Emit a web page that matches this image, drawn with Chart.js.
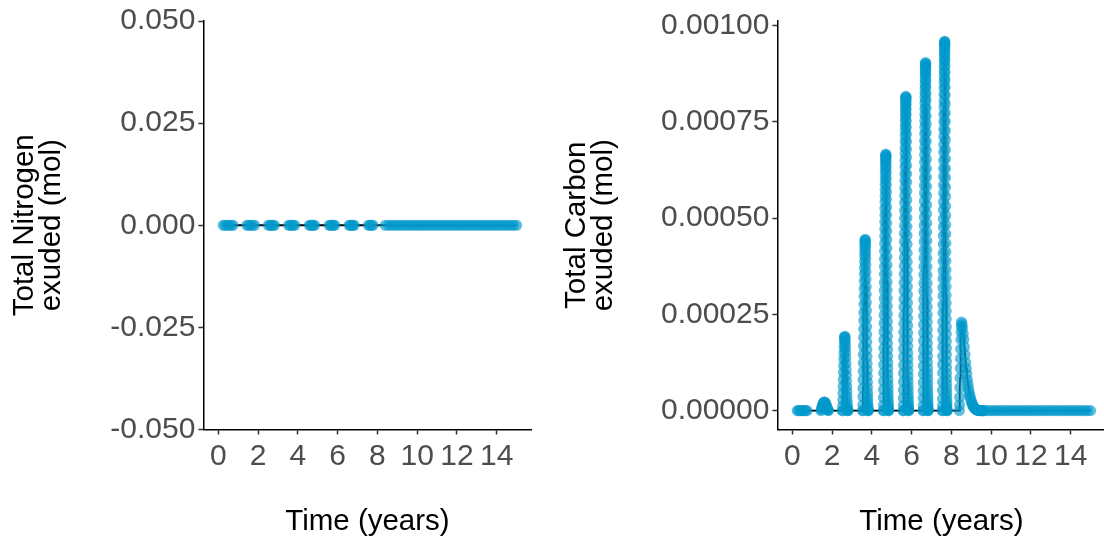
<!DOCTYPE html>
<html>
<head>
<meta charset="utf-8">
<script src="https://cdn.jsdelivr.net/npm/chart.js@4.4.0/dist/chart.umd.min.js"></script>
<style>
  html, body { margin: 0; padding: 0; background: #fff; overflow: hidden; width: 1104px; height: 542px; }
  canvas { position: absolute; top: 0; }
  #nitrogen { left: 0; }
  #carbon { left: 552px; }
</style>
</head>
<body>
<canvas id="nitrogen" width="552" height="542"></canvas>
<canvas id="carbon" width="560" height="542"></canvas>
<script>
// ---- Axis ticks ----
const timeTicks = [0, 2, 4, 6, 8, 10, 12, 14];
const timeTickLabels = ['0', '2', '4', '6', '8', '10', '12', '14'];
const nitrogenTicks = [-0.05, -0.025, 0, 0.025, 0.05];
const nitrogenTickLabels = ['-0.050', '-0.025', '0.000', '0.025', '0.050'];
const carbonTicks = [0, 0.00025, 0.0005, 0.00075, 0.001];
const carbonTickLabels = ['0.00000', '0.00025', '0.00050', '0.00075', '0.00100'];

// ---- Nitrogen output: sampling windows (years), samples evenly spaced in each ----
const nitrogenWindowStart = [0.25, 1.44, 2.52, 3.54, 4.58, 5.58, 6.58, 7.55, 8.40];
const nitrogenWindowEnd   = [0.74, 1.82, 2.82, 3.84, 4.84, 5.85, 6.83, 7.78, 15.00];
// Total nitrogen exuded (mol)
const nitrogenWindowValues = [
  [0, 0, 0, 0, 0, 0],
  [0, 0, 0, 0, 0],
  [0, 0, 0, 0, 0],
  [0, 0, 0, 0, 0],
  [0, 0, 0, 0, 0],
  [0, 0, 0, 0, 0],
  [0, 0, 0, 0, 0],
  [0, 0, 0, 0],
  [0, 0, 0, 0, 0, 0, 0, 0, 0, 0, 0, 0, 0, 0, 0, 0, 0, 0, 0, 0, 0, 0, 0, 0, 0, 0, 0, 0, 0, 0,
   0, 0, 0, 0, 0, 0, 0, 0, 0, 0, 0, 0, 0, 0, 0]
];

// ---- Carbon output: sampling windows (years), samples evenly spaced in each ----
const carbonWindowStart = [0.25, 1.44, 2.52, 3.54, 4.58, 5.58, 6.58, 7.55, 8.40, 8.53, 9.65];
const carbonWindowEnd   = [0.74, 1.82, 2.80, 3.82, 4.84, 5.85, 6.83, 7.78, 8.51, 9.60, 15.00];
// Total carbon exuded, in units of 1e-5 mol
const carbonUnit = 1e-5;
const carbonWindowValues = [
  // year 0
  [0, 0, 0, 0, 0, 0, 0, 0],
  // year 1
  [0, 0.3, 0.7, 1.1, 1.5, 1.8, 2.0, 2.2, 2.2, 2.1, 1.9, 1.6, 1.3, 0.9, 0.6, 0.3, 0.1, 0],
  // year 2
  [0, 0, 1.2, 2.8, 4.5, 6.3, 8.1, 9.9, 11.7, 13.4, 15.0, 16.4, 17.6, 18.5, 19.1, 19.3,
   19.0, 18.4, 17.5, 16.4, 15.1, 13.7, 12.2, 10.7, 9.2, 7.7, 6.3, 5.0, 3.8, 2.7, 1.8, 1.0, 0.4, 0.1, 0, 0],
  // year 3
  [0, 0, 1.5, 3.6, 5.8, 8.0, 10.2, 12.4, 14.6, 16.8, 19.0, 21.2, 23.4, 25.5, 27.6, 29.7, 31.7, 33.6,
   35.5, 37.2, 38.8, 40.3, 41.6, 42.7, 43.6, 44.2, 44.5,
   44.1, 43.4, 42.4, 41.1, 39.6, 37.9, 36.1, 34.2, 32.2, 30.2, 28.1, 26.0, 23.9, 21.8, 19.8, 17.8,
   15.9, 14.0, 12.2, 10.5, 8.9, 7.4, 6.0, 4.7, 3.6, 2.6, 1.7, 1.0, 0.5, 0.1, 0, 0],
  // year 4
  [0, 0, 1.4, 3.4, 5.5, 7.6, 9.8, 11.9, 14.1, 16.2, 18.4, 20.5, 22.7, 24.8, 27.0, 29.1, 31.2, 33.3,
   35.4, 37.4, 39.4, 41.4, 43.4, 45.3, 47.2, 49.0, 50.8, 52.5, 54.2, 55.8, 57.3, 58.8, 60.1, 61.4,
   62.6, 63.6, 64.6, 65.4, 66.0, 66.4, 66.6,
   66.2, 65.5, 64.5, 63.3, 61.9, 60.3, 58.6, 56.8, 54.9, 52.9, 50.8, 48.7, 46.6, 44.4, 42.2, 40.0,
   37.8, 35.6, 33.4, 31.3, 29.2, 27.1, 25.1, 23.1, 21.2, 19.3, 17.5, 15.8, 14.1, 12.5, 11.0, 9.5,
   8.1, 6.8, 5.6, 4.5, 3.5, 2.6, 1.8, 1.1, 0.6, 0.2, 0, 0],
  // year 5
  [0, 0, 1.4, 3.3, 5.4, 7.5, 9.7, 11.8, 14.0, 16.1, 18.3, 20.4, 22.6, 24.7, 26.9, 29.0, 31.2, 33.3,
   35.5, 37.6, 39.7, 41.8, 43.9, 46.0, 48.0, 50.0, 52.0, 54.0, 55.9, 57.8, 59.7, 61.5, 63.3, 65.0,
   66.7, 68.3, 69.9, 71.4, 72.8, 74.1, 75.4, 76.6, 77.7, 78.7, 79.6, 80.4, 81.0, 81.4, 81.6,
   81.2, 80.5, 79.5, 78.3, 76.9, 75.3, 73.6, 71.8, 69.9, 67.9, 65.8, 63.7, 61.5, 59.3, 57.0, 54.7,
   52.4, 50.1, 47.8, 45.5, 43.2, 40.9, 38.7, 36.5, 34.3, 32.2, 30.1, 28.0, 26.0, 24.0, 22.1, 20.2,
   18.4, 16.7, 15.0, 13.4, 11.9, 10.4, 9.0, 7.7, 6.4, 5.3, 4.2, 3.2, 2.4, 1.6, 1.0, 0.5, 0.2, 0, 0],
  // year 6
  [0, 0, 1.3, 3.2, 5.2, 7.3, 9.5, 11.6, 13.8, 15.9, 18.1, 20.2, 22.4, 24.5, 26.7, 28.8, 31.0, 33.1,
   35.3, 37.4, 39.6, 41.7, 43.9, 46.0, 48.1, 50.2, 52.3, 54.4, 56.5, 58.5, 60.5, 62.5, 64.5, 66.4,
   68.3, 70.1, 71.9, 73.6, 75.3, 76.9, 78.5, 79.9, 81.3, 82.6, 83.8, 84.9, 85.9, 86.9, 87.7, 88.5,
   89.2, 89.7, 90.1, 90.4,
   90.0, 89.3, 88.3, 87.1, 85.7, 84.1, 82.4, 80.6, 78.6, 76.5, 74.4, 72.2, 69.9, 67.6, 65.3, 62.9,
   60.6, 58.2, 55.8, 53.4, 51.1, 48.7, 46.4, 44.1, 41.8, 39.6, 37.4, 35.2, 33.1, 31.0, 28.9, 26.9,
   24.9, 23.0, 21.1, 19.3, 17.5, 15.8, 14.2, 12.6, 11.1, 9.7, 8.4, 7.1, 5.9, 4.8, 3.8, 2.9, 2.1,
   1.4, 0.8, 0.4, 0.1, 0, 0],
  // year 7
  [0, 0, 1.2, 3.1, 5.3, 7.4, 9.8, 12.0, 14.1, 16.5, 18.6, 20.9, 23.0, 25.4, 27.5, 29.8, 32.0, 34.3,
   36.4, 38.8, 40.9, 43.2, 45.4, 47.7, 49.8, 52.1, 54.2, 56.5, 58.6, 60.8, 62.9, 65.0, 67.1, 69.1,
   71.2, 73.1, 75.1, 76.9, 78.8, 80.5, 82.2, 83.8, 85.3, 86.8, 88.1, 89.4, 90.6, 91.6, 92.6, 93.5,
   94.3, 94.9, 95.4, 95.8, 95.9,
   95.5, 94.8, 93.8, 92.6, 91.2, 89.6, 87.9, 86.0, 84.0, 81.9, 79.7, 77.4, 75.1, 72.7, 70.3, 67.8,
   65.4, 62.9, 60.5, 58.0, 55.6, 53.1, 50.7, 48.3, 45.9, 43.5, 41.2, 38.9, 36.6, 34.4, 32.2, 30.0,
   27.9, 25.8, 23.8, 21.8, 19.9, 18.0, 16.2, 14.5, 12.8, 11.2, 9.7, 8.3, 7.0, 5.7, 4.6, 3.6, 2.7,
   1.9, 1.2, 0.7, 0.3, 0.1, 0, 0],
  // year 8 pulse: rise
  [0, 1.5, 3.5, 6, 8.5, 11, 13.5, 16, 18.5, 20.5, 22, 23],
  // year 8 pulse: decay
  [22.5, 21.5, 20, 18.5, 16.5, 14.5, 12.5, 11, 9.5, 8, 6.8, 5.7, 4.7, 3.9, 3.2,
   2.6, 2.1, 1.7, 1.3, 1.0, 0.8, 0.6, 0.45, 0.35, 0.25, 0.18, 0.12, 0.08, 0.05, 0.03, 0.02, 0.01, 0, 0, 0, 0],
  // years 9.6 - 15
  [0, 0, 0, 0, 0, 0, 0, 0, 0, 0, 0, 0, 0, 0, 0, 0, 0, 0, 0, 0, 0, 0, 0, 0, 0, 0, 0, 0,
   0, 0, 0, 0, 0, 0, 0, 0]
];

// Place each window's samples on the time axis
function buildSeries(starts, ends, windows, unit) {
  const pts = [];
  starts.forEach((s, w) => {
    const vals = windows[w];
    const n = vals.length;
    vals.forEach((v, i) => {
      const t = n > 1 ? s + (ends[w] - s) * i / (n - 1) : s;
      pts.push({ x: t, y: v * unit });
    });
  });
  return pts;
}

const nitrogenSeries = buildSeries(nitrogenWindowStart, nitrogenWindowEnd, nitrogenWindowValues, 1);
const carbonSeries = buildSeries(carbonWindowStart, carbonWindowEnd, carbonWindowValues, carbonUnit);

const FONT = "'Liberation Sans', Arial, sans-serif";
const TICK_FONT = { family: FONT, size: 30, lineHeight: 1.2 };
const TITLE_FONT = { family: FONT, size: 29.5, lineHeight: 1.2 };

function makeChart(id, series, cfg) {
  return new Chart(document.getElementById(id), {
    type: 'scatter',
    data: {
      datasets: [
        { data: series, showLine: true, borderColor: '#000', borderWidth: 1.8, pointRadius: 0, tension: 0, order: 2 },
        { data: series, showLine: false, pointRadius: 5.6, pointBorderWidth: 0,
          pointBackgroundColor: 'rgba(0,153,204,0.62)', order: 1 }
      ]
    },
    options: {
      responsive: false,
      animation: false,
      events: [],
      layout: { padding: { top: 20, right: cfg.padRight, bottom: 0, left: 0 } },
      plugins: { legend: { display: false }, tooltip: { enabled: false } },
      scales: {
        x: {
          type: 'linear', min: -0.75, max: 15.75,
          afterFit: s => { s.height = 112.5; },
          afterBuildTicks: s => { s.ticks = timeTicks.map(v => ({ value: v })); },
          ticks: { callback: (v, i) => timeTickLabels[i], color: '#4D4D4D', font: TICK_FONT,
                   padding: 4, maxRotation: 0, autoSkip: false },
          grid: { display: true, drawOnChartArea: false, drawTicks: true, tickLength: 5,
                  tickColor: '#333', tickWidth: 1.5 },
          border: { display: true, color: '#000', width: 1.5 },
          title: { display: true, text: 'Time (years)', color: '#000', font: TITLE_FONT,
                   padding: { top: 0, bottom: 2 } }
        },
        y: {
          type: 'linear', min: cfg.yMin, max: cfg.yMax,
          afterFit: s => { s.width = cfg.yWidth; },
          afterBuildTicks: s => { s.ticks = cfg.ticks.map(v => ({ value: v })); },
          ticks: { callback: (v, i) => cfg.tickLabels[i], color: '#4D4D4D', font: TICK_FONT, padding: 3 },
          grid: { display: true, drawOnChartArea: false, drawTicks: true, tickLength: 5,
                  tickColor: '#333', tickWidth: 1.5 },
          border: { display: true, color: '#000', width: 1.5 },
          title: { display: true, text: cfg.title, color: '#000',
                   font: { family: FONT, size: 29.5, lineHeight: 0.92 }, padding: { top: 11.5, bottom: 0 } }
        }
      }
    }
  });
}

makeChart('nitrogen', nitrogenSeries, {
  yMin: -0.05, yMax: 0.05, yWidth: 203.4, padRight: 20.5,
  ticks: nitrogenTicks, tickLabels: nitrogenTickLabels,
  title: ['Total Nitrogen', 'exuded (mol)']
});

makeChart('carbon', carbonSeries, {
  yMin: -0.000049, yMax: 0.001012, yWidth: 225.4, padRight: 6.5,
  ticks: carbonTicks, tickLabels: carbonTickLabels,
  title: ['Total Carbon', 'exuded (mol)']
});
</script>
</body>
</html>
